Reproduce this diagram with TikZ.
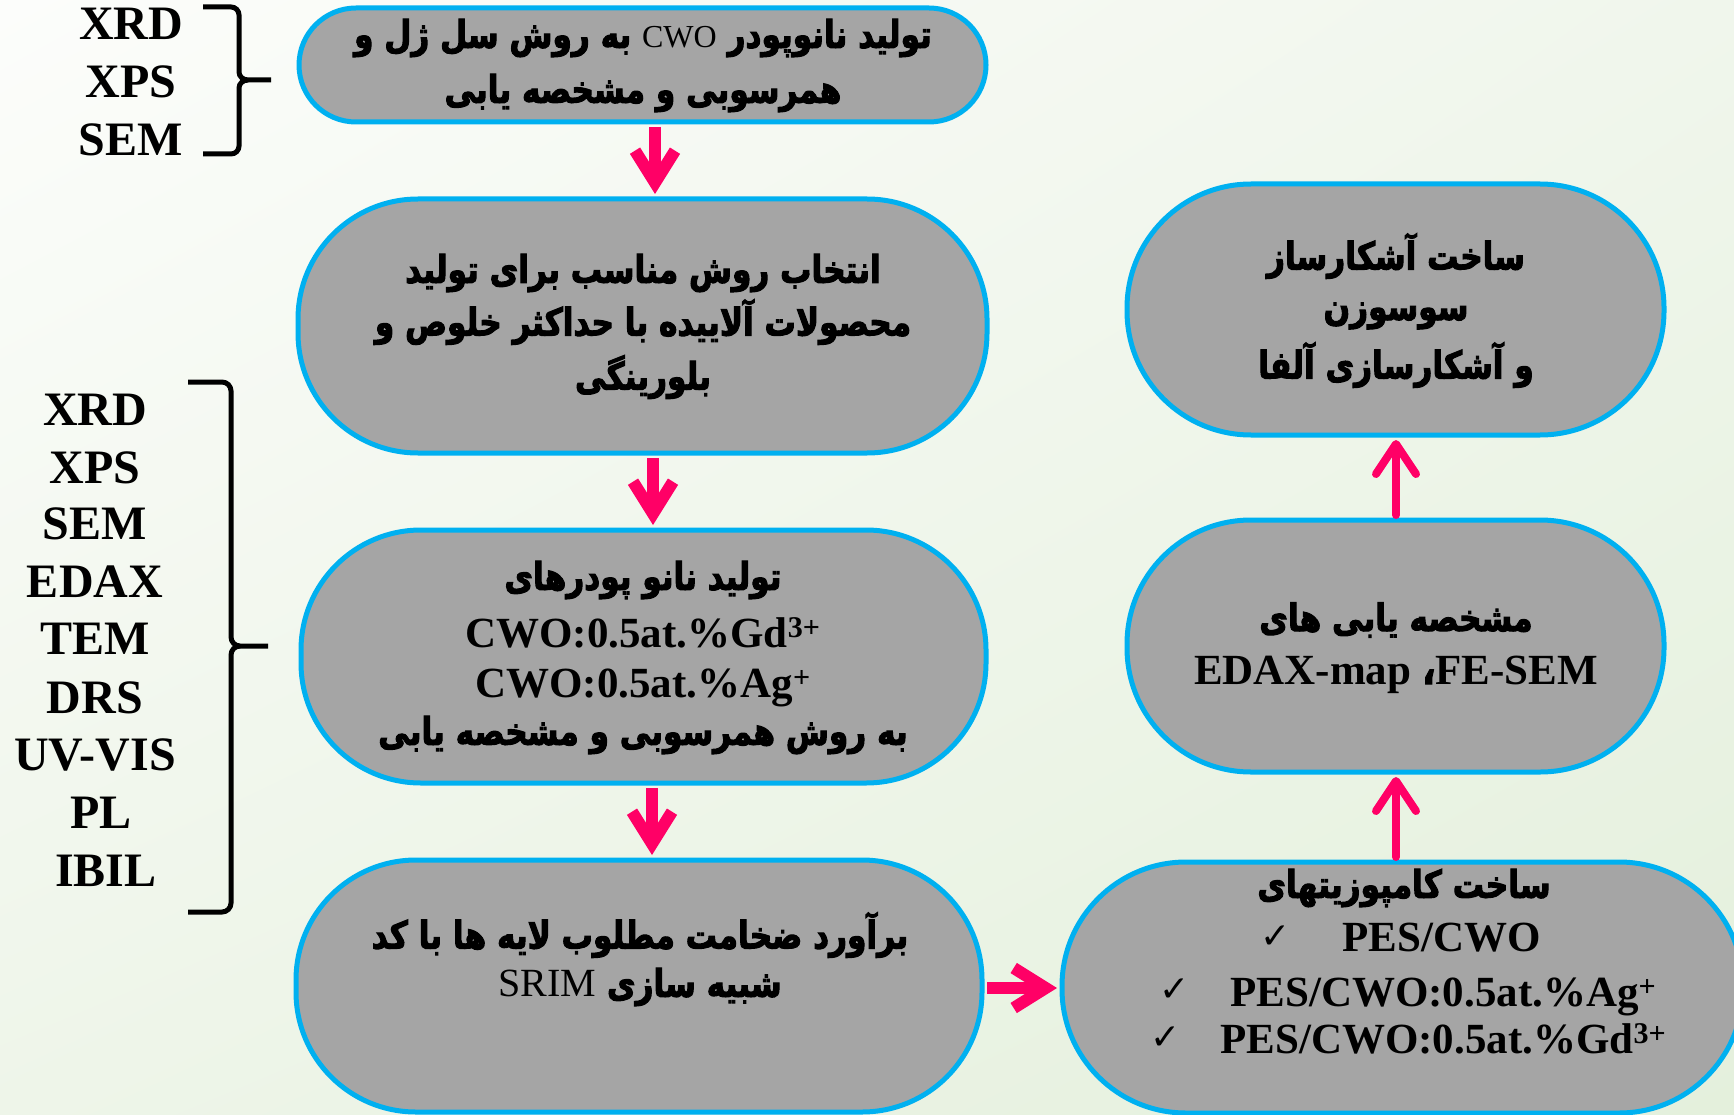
\documentclass[tikz,border=0pt]{standalone}
\usepackage{fontspec}
\setmainfont{Liberation Serif}
\newfontfamily\fa[Script=Arabic, FakeStretch=0.82, BoldFeatures={FakeBold=2.6}]{DejaVu Sans}
\newfontfamily\symf{DejaVu Sans}
\TeXXeTstate=1
\usetikzlibrary{arrows.meta,shadings}
\definecolor{bgUL}{RGB}{252,253,251}
\definecolor{bgUR}{RGB}{240,246,236}
\definecolor{bgLL}{RGB}{238,245,233}
\definecolor{bgLR}{RGB}{228,240,220}
\definecolor{boxgray}{RGB}{165,165,165}
\definecolor{boxblue}{RGB}{0,176,240}
\definecolor{arrpink}{RGB}{255,0,102}
\newcommand\pline[1]{{\fa\bfseries\beginR #1\endR}}
\newcommand\latreg[2]{\beginL{\rmfamily\mdseries\fontsize{#1}{#1}\selectfont #2}\endL{}}
\tikzset{
  box/.style={draw=boxblue, line width=5pt, fill=boxgray, inner sep=0pt},
  ptxt/.style={inner sep=0pt, font=\fontsize{38}{44}\selectfont},
  ltxt/.style={inner sep=0pt, anchor=base, font=\fontsize{43}{50}\selectfont\bfseries},
  lab/.style={inner sep=0pt, anchor=base, font=\fontsize{48}{52}\selectfont\bfseries},
  chk/.style={inner sep=0pt, font=\fontsize{36}{40}\symf},
  brk/.style={draw=black, line width=5pt},
  dnarr/.style={draw=arrpink, line width=12pt, shorten <=2.5pt, shorten >=2.5pt,
     -{Straight Barb[length=32pt,width=40pt]}},
  uparr/.style={draw=arrpink, line width=8pt, line cap=round, shorten <=2.5pt, shorten >=2.5pt,
     -{Straight Barb[length=30pt,width=40pt,round]}},
}
\begin{document}
\begin{tikzpicture}[x=1pt,y=-1pt]
\useasboundingbox (0,0) rectangle (1734,1115);
\shade[upper left=bgUL, upper right=bgUR, lower left=bgLL, lower right=bgLR] (0,0) rectangle (1734,1115);

% boxes
\node[box, rounded corners=57pt, minimum width=687pt, minimum height=114pt] (b1) at (642.5,65) {};
\node[box, rounded corners=120pt, minimum width=689pt, minimum height=254pt] (b2) at (642.5,326) {};
\node[box, rounded corners=120pt, minimum width=685pt, minimum height=253pt] (b3) at (643.5,656.5) {};
\node[box, rounded corners=120pt, minimum width=686pt, minimum height=252pt] (b4) at (639,986) {};
\node[box, rounded corners=124pt, minimum width=537pt, minimum height=251pt] (b5) at (1395.5,309.5) {};
\node[box, rounded corners=124pt, minimum width=537pt, minimum height=252pt] (b6) at (1395.5,646) {};
\node[box, rounded corners=124pt, minimum width=681pt, minimum height=251pt] (b7) at (1402.5,987.5) {};

% box texts
\node[ptxt] (t11) at (643,38) {\pline{تولید نانوپودر \latreg{32}{CWO} به روش سل ژل و}};
\node[ptxt] (t12) at (643,93) {\pline{همرسوبی  و مشخصه یابی}};

\node[ptxt] (t21) at (643,273) {\pline{انتخاب روش مناسب برای تولید}};
\node[ptxt] (t22) at (643,322) {\pline{محصولات آلاییده با حداکثر خلوص و}};
\node[ptxt] (t23) at (643,377) {\pline{بلورینگی}};

\node[ptxt] (t31) at (643,580) {\pline{تولید نانو پودرهای}};
\node[ltxt] (t32) at (643,647) {CWO:0.5at.\%Gd\textsuperscript{3+}};
\node[ltxt] (t33) at (643,697) {CWO:0.5at.\%Ag\textsuperscript{+}};
\node[ptxt] (t34) at (643,735) {\pline{به روش همرسوبی و مشخصه یابی}};

\node[ptxt] (t41) at (640,935) {\pline{برآورد ضخامت مطلوب لایه ها با کد}};
\node[ptxt] (t42) at (640,987) {\pline{شبیه سازی \latreg{40}{SRIM}}};

\node[ptxt] (t51) at (1396,256) {\pline{ساخت آشکارساز}};
\node[ptxt] (t52) at (1396,316) {\pline{سوسوزن}};
\node[ptxt] (t53) at (1396,365) {\pline{و آشکارسازی آلفا}};

\node[ptxt] (t61) at (1396,620) {\pline{مشخصه یابی های}};
\node[ltxt] (t62) at (1396,684) {EDAX-map {\fa ،}FE-SEM};

\node[ptxt] (t71) at (1404,888) {\pline{ساخت کامپوزیتهای}};
\node[chk] (c1) at (1276,937) {✓};
\node[chk] (c2) at (1175,990) {✓};
\node[chk] (c3) at (1166,1038) {✓};
\node[ltxt, anchor=base west] (t72) at (1342,951) {PES/CWO};
\node[ltxt, anchor=base west] (t73) at (1230,1006) {PES/CWO:0.5at.\%Ag\textsuperscript{+}};
\node[ltxt, anchor=base west] (t74) at (1220,1053) {PES/CWO:0.5at.\%Gd\textsuperscript{3+}};

% labels top group
\node[lab] (l1) at (131,40) {XRD};
\node[lab] (l2) at (131,98) {XPS};
\node[lab] (l3) at (131,156) {SEM};
% labels left group
\node[lab] (m1) at (95,425) {XRD};
\node[lab] (m2) at (95,483) {XPS};
\node[lab] (m3) at (95,539) {SEM};
\node[lab] (m4) at (95,597) {EDAX};
\node[lab] (m5) at (95,654) {TEM};
\node[lab] (m6) at (95,713) {DRS};
\node[lab] (m7) at (95,770) {UV-VIS};
\node[lab] (m8) at (101,828) {PL};
\node[lab] (m9) at (106,886) {IBIL};

% brackets
\draw[brk] (203,7) -- (231,7) to[out=0,in=90] (239,15) -- (239,72) to[out=-90,in=180] (248,80) -- (271,80);
\draw[brk] (248,80) to[out=180,in=90] (239,88) -- (239,146) to[out=-90,in=0] (231,154) -- (203,154);
\draw[brk] (188,382) -- (222,382) to[out=0,in=90] (231,391) -- (231,637) to[out=-90,in=180] (240,646) -- (268,646);
\draw[brk] (240,646) to[out=180,in=90] (231,655) -- (231,903) to[out=-90,in=0] (222,912) -- (188,912);

% connectors
\coordinate (ax1) at (655,0);
\coordinate (ax2) at (653,0);
\coordinate (ax3) at (652,0);
\coordinate (ah) at (0,988);
\coordinate (au) at (1396,0);
\draw[dnarr] (b1.south -| ax1) -- (b2.north -| ax1);
\draw[dnarr] (b2.south -| ax2) -- (b3.north -| ax2);
\draw[dnarr] (b3.south -| ax3) -- (b4.north -| ax3);
\draw[dnarr] (b4.east |- ah) -- (b7.west |- ah);
\draw[uparr] (b7.north -| au) -- (b6.south -| au);
\draw[uparr] (b6.north -| au) -- (b5.south -| au);
\end{tikzpicture}
\end{document}
